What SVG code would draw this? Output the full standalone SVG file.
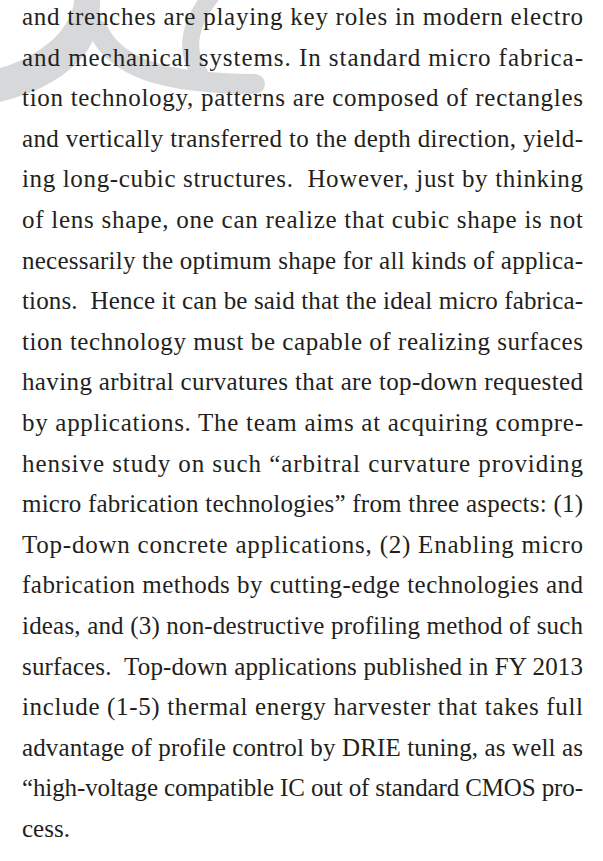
<svg xmlns="http://www.w3.org/2000/svg" width="603" height="861" viewBox="0 0 603 861">
<style>
.wm{fill:#d6d8da;stroke:none}
.wms{fill:none;stroke:#d6d8da;stroke-linecap:round}
.t{font-family:"Liberation Serif","Noto Sans CJK JP",serif;font-size:25px;fill:#231f20}
</style>
<rect width="603" height="861" fill="#ffffff"/>
<g id="watermark">
<path class="wm" d="M74,0 L100,0 C100,30 92,48 78,62 C58,82 30,95 0,102 L0,68 C28,60 52,44 63,28 C70,18 74,8 74,0 Z"/>
<path class="wms" stroke-width="20" d="M98,30 C115,66 160,84 255,84"/>
<path class="wms" stroke-width="17" d="M212,-5 C192,20 182,48 200,74"/>
</g>
<g id="body-text" class="t">
<text x="22" y="25" textLength="561" lengthAdjust="spacing">and trenches are playing key roles in modern electro</text>
<text x="22" y="65.6" textLength="561" lengthAdjust="spacing">and mechanical systems. In standard micro fabrica-</text>
<text x="22" y="106.2" textLength="561" lengthAdjust="spacing">tion technology, patterns are composed of rectangles</text>
<text x="22" y="146.8" textLength="561" lengthAdjust="spacing">and vertically transferred to the depth direction, yield-</text>
<text x="22" y="187.4" textLength="561" lengthAdjust="spacing" xml:space="preserve">ing long-cubic structures.  However, just by thinking</text>
<text x="22" y="228" textLength="561" lengthAdjust="spacing">of lens shape, one can realize that cubic shape is not</text>
<text x="22" y="268.6" textLength="561" lengthAdjust="spacing">necessarily the optimum shape for all kinds of applica-</text>
<text x="22" y="309.2" textLength="561" lengthAdjust="spacing" xml:space="preserve">tions.  Hence it can be said that the ideal micro fabrica-</text>
<text x="22" y="349.8" textLength="561" lengthAdjust="spacing">tion technology must be capable of realizing surfaces</text>
<text x="22" y="390.4" textLength="561" lengthAdjust="spacing">having arbitral curvatures that are top-down requested</text>
<text x="22" y="431" textLength="561" lengthAdjust="spacing">by applications. The team aims at acquiring compre-</text>
<text x="22" y="471.6" textLength="561" lengthAdjust="spacing">hensive study on such “arbitral curvature providing</text>
<text x="22" y="512.2" textLength="561" lengthAdjust="spacing">micro fabrication technologies” from three aspects: (1)</text>
<text x="22" y="552.8" textLength="561" lengthAdjust="spacing">Top-down concrete applications, (2) Enabling micro</text>
<text x="22" y="593.4" textLength="561" lengthAdjust="spacing">fabrication methods by cutting-edge technologies and</text>
<text x="22" y="634" textLength="561" lengthAdjust="spacing">ideas, and (3) non-destructive profiling method of such</text>
<text x="22" y="674.6" textLength="561" lengthAdjust="spacing" xml:space="preserve">surfaces.  Top-down applications published in FY 2013</text>
<text x="22" y="715.2" textLength="561" lengthAdjust="spacing">include (1-5) thermal energy harvester that takes full</text>
<text x="22" y="755.8" textLength="561" lengthAdjust="spacing">advantage of profile control by DRIE tuning, as well as</text>
<text x="22" y="796.4" textLength="561" lengthAdjust="spacing">“high-voltage compatible IC out of standard CMOS pro-</text>
<text x="22" y="837">cess.</text>
</g>
</svg>
